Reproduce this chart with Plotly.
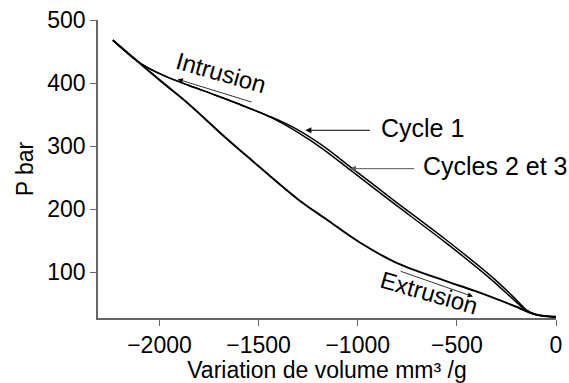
import plotly.graph_objects as go

# Pressure (bar) vs. volume variation (mm3/g) for the intrusion/extrusion loop
intr_vol = [-2235, -2100, -1980, -1851, -1720, -1603, -1436, -1304, -1170,
            -1038, -823, -558, -326, -210, -150, -100, -50, 0]
intr_p_c23 = [468, 432, 412, 396, 381, 367, 345, 322, 294,
              262, 210, 147, 88, 55, 39, 32, 30, 28]
intr_p_c1 = [468, 432, 412, 396, 381, 367, 346, 326, 299,
             267, 215, 152, 93, 59, 40, 32, 30, 28]

extr_vol = [-2235, -2109, -1985, -1850, -1676, -1552, -1304, -1155, -995,
            -807, -558, -409, -210, -126, -60, 0]
extr_p = [468, 434, 401, 366, 316, 282, 216, 183, 148,
          115, 86, 70, 46, 35, 30, 29]

x_ticks = [-2000, -1500, -1000, -500, 0]
y_ticks = [100, 200, 300, 400, 500]

FONT = "Liberation Sans, Arial, sans-serif"
TICK_SIZE = 23
LABEL_SIZE = 25

fig = go.Figure()
fig.add_trace(go.Scatter(x=extr_vol, y=extr_p, mode="lines",
                         line=dict(color="black", width=2, shape="spline", smoothing=1)))
fig.add_trace(go.Scatter(x=intr_vol, y=intr_p_c23, mode="lines",
                         line=dict(color="black", width=1.5, shape="spline", smoothing=0.8)))
fig.add_trace(go.Scatter(x=intr_vol, y=intr_p_c1, mode="lines",
                         line=dict(color="black", width=1.5, shape="spline", smoothing=0.8)))

annotations = [
    # labels
    dict(x=-1692, y=416, text="Intrusion", showarrow=False, textangle=16,
         font=dict(size=24)),
    dict(x=-642, y=67, text="Extrusion", showarrow=False, textangle=16,
         font=dict(size=24)),
    dict(x=-891, y=329, text="Cycle 1", showarrow=False, xanchor="left",
         font=dict(size=LABEL_SIZE)),
    dict(x=-683, y=269, text="Cycles 2 et 3", showarrow=False, xanchor="left",
         font=dict(size=LABEL_SIZE)),
    # arrows
    dict(x=-1908, y=406, ax=-1528, ay=369, axref="x", ayref="y", text="",
         showarrow=True, arrowhead=2, arrowsize=1.3, arrowwidth=0.8, arrowcolor="black"),
    dict(x=-419, y=61, ax=-791, ay=102, axref="x", ayref="y", text="",
         showarrow=True, arrowhead=2, arrowsize=1.3, arrowwidth=0.8, arrowcolor="black"),
    dict(x=-1264, y=325, ax=-931, ay=325, axref="x", ayref="y", text="",
         showarrow=True, arrowhead=2, arrowsize=1.2, arrowwidth=1, arrowcolor="black"),
    dict(x=-1040, y=264, ax=-707, ay=264, axref="x", ayref="y", text="",
         showarrow=True, arrowhead=2, arrowsize=1.2, arrowwidth=1, arrowcolor="#555555"),
]

fig.update_layout(
    width=569, height=383,
    margin=dict(l=98, r=7, t=19, b=65),
    paper_bgcolor="white", plot_bgcolor="white",
    showlegend=False,
    font=dict(family=FONT, size=TICK_SIZE, color="black"),
    annotations=annotations,
    xaxis=dict(range=[-2310, 0], tickvals=x_ticks, ticks="outside", ticklen=6,
               tickcolor="#666666", showline=True, linecolor="#666666", linewidth=1.5,
               showgrid=False, zeroline=False, tickfont=dict(size=TICK_SIZE),
               title=dict(text="Variation de volume mm³ /g", standoff=0,
                          font=dict(size=TICK_SIZE))),
    yaxis=dict(range=[27, 500], tickvals=y_ticks, ticks="outside", ticklen=6,
               tickcolor="#666666", showline=True, linecolor="#666666", linewidth=1.5,
               showgrid=False, zeroline=False, tickfont=dict(size=TICK_SIZE),
               title=dict(text="P bar", standoff=7, font=dict(size=TICK_SIZE))),
)

fig.write_html("out.html")
